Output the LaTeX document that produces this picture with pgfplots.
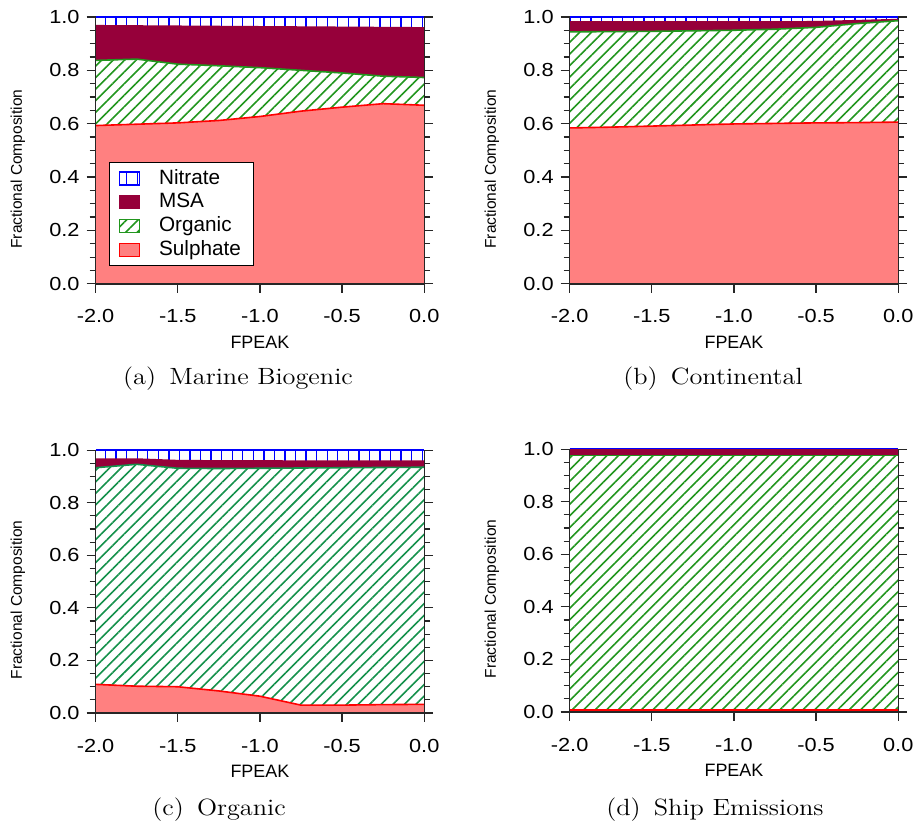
\documentclass[border=0pt]{standalone}
\usepackage{graphicx}
\usepackage{pgfplots}
\pgfplotsset{compat=1.18}
\usepackage{pgfplotstable}
\usetikzlibrary{patterns.meta}
\usepackage{fontspec}
\newfontfamily\arial{Liberation Sans}
\newfontfamily\arialwide[FakeStretch=1.15]{Liberation Sans}

\definecolor{sulfill}{RGB}{255,128,128}
\definecolor{sulline}{RGB}{255,0,0}
\definecolor{msacol}{RGB}{150,0,58}
\definecolor{orgcol}{RGB}{34,150,30}
\definecolor{orgcolc}{RGB}{20,145,75}
\definecolor{nitcol}{RGB}{0,0,255}

% cumulative tops of each layer
\pgfplotstableread{
x     sul   org   msa   nit
-2.00 0.593 0.837 0.967 1.0
-1.75 0.598 0.842 0.966 1.0
-1.50 0.603 0.823 0.965 1.0
-1.25 0.612 0.817 0.964 1.0
-1.00 0.627 0.810 0.963 1.0
-0.75 0.647 0.800 0.962 1.0
-0.50 0.662 0.790 0.961 1.0
-0.25 0.675 0.778 0.960 1.0
 0.00 0.669 0.773 0.959 1.0
}\tabA
\pgfplotstableread{
x     sul   org   msa   nit
-2.00 0.584 0.944 0.981 1.0
-1.75 0.587 0.945 0.981 1.0
-1.50 0.591 0.946 0.981 1.0
-1.25 0.595 0.948 0.981 1.0
-1.00 0.599 0.950 0.981 1.0
-0.75 0.601 0.954 0.981 1.0
-0.50 0.603 0.961 0.982 1.0
-0.25 0.604 0.975 0.986 1.0
 0.00 0.606 0.986 0.990 1.0
}\tabB
\pgfplotstableread{
x     sul   org   msa   nit
-2.00 0.109 0.933 0.966 1.0
-1.75 0.102 0.946 0.966 1.0
-1.50 0.100 0.931 0.960 1.0
-1.25 0.084 0.930 0.959 1.0
-1.00 0.064 0.931 0.959 1.0
-0.75 0.030 0.932 0.958 1.0
-0.50 0.030 0.933 0.958 1.0
-0.25 0.032 0.934 0.958 1.0
 0.00 0.033 0.935 0.958 1.0
}\tabC
\pgfplotstableread{
x     sul   org   msa   nit
-2.00 0.008 0.975 0.997 1.0
-1.50 0.008 0.975 0.997 1.0
-1.00 0.008 0.975 0.997 1.0
-0.50 0.008 0.975 0.997 1.0
 0.00 0.008 0.975 0.997 1.0
}\tabD

\pgfplotsset{
  fcomp/.style={
    scale only axis, width=165pt, height=134pt,
    xmin=-2, xmax=0, ymin=0, ymax=1,
    axis x line*=bottom, axis y line*=box,
    xtick pos=bottom, ytick pos=both,
    axis line style={-, line width=0.7pt, black!85},
    tick align=outside,
    xtick={-2,-1.5,-1,-0.5,0}, ytick={0,0.2,0.4,0.6,0.8,1},
    minor y tick num=3,
    major tick length=4.5pt, minor tick length=3pt,
    every tick/.style={black!85, line width=0.6pt},
    ticklabel style={font=\arialwide\fontsize{9.5}{10}\selectfont},
    xticklabel style={yshift=-5pt},
    /pgf/number format/fixed, /pgf/number format/fixed zerofill,
    /pgf/number format/precision=1, /pgf/number format/assume math mode=true,
    xlabel={FPEAK}, ylabel={Fractional Composition},
    every axis x label/.style={at={(axis description cs:0.5,0)}, yshift=-29.5pt,
      anchor=center, font=\arial\fontsize{9}{10}\selectfont},
    every axis y label/.style={at={(axis description cs:0,0.43)}, xshift=-39pt,
      rotate=90, anchor=center, font=\arial\fontsize{7.8}{9}\selectfont},
    axis on top, clip=false, no markers,
  },
  legimg/.style={legend image code/.code={\draw[##1] (0pt,-3.3pt) rectangle (10pt,3.3pt);}},
  nitpat/.style={fill=white, postaction={pattern={Lines[angle=90,distance=5.3pt,line width=0.65pt]}, pattern color=nitcol}},
  orgpat/.style={fill=white, postaction={pattern={Lines[angle=45,distance=4.1pt,line width=0.8pt]}, pattern color=#1}},
}

\newcommand\layers[2]{%
  \addplot[forget plot, draw=none, nitpat] table[y=nit]{#1} \closedcycle;
  \addplot[forget plot, draw=none, fill=msacol] table[y=msa]{#1} \closedcycle;
  \addplot[forget plot, draw=none, orgpat=#2] table[y=org]{#1} \closedcycle;
  \addplot[forget plot, draw=none, fill=sulfill] table[y=sul]{#1} \closedcycle;
  \addplot[forget plot, nitcol, line width=0.8pt] table[y=nit]{#1};
  \addplot[forget plot, msacol, line width=0.8pt] table[y=msa]{#1};
  \addplot[forget plot, #2, line width=0.8pt] table[y=org]{#1};
  \addplot[forget plot, sulline, line width=0.8pt] table[y=sul]{#1};
}

\newcommand\subcap[1]{\scalebox{1.12}[1]{\fontsize{11.8}{13}\selectfont #1}}

\begin{document}
\begin{tikzpicture}
\path (0pt,0pt) rectangle (460pt,-417.5pt);

\begin{axis}[fcomp, at={(48pt,-142.5pt)}, anchor=south west,
  legend style={at={(0.04,0.456)}, anchor=north west, draw=black, fill=white,
    font=\arial\fontsize{10.4}{12}\selectfont, inner xsep=5pt, inner ysep=2pt,
    row sep=0pt, nodes={inner sep=1.5pt},
    /tikz/every odd column/.append style={column sep=8pt}},
  legend cell align=left]
\layers{\tabA}{orgcol}
\addlegendimage{legimg, draw=nitcol, line width=0.6pt, nitpat}
\addlegendentry{Nitrate}
\addlegendimage{legimg, draw=msacol, fill=msacol}
\addlegendentry{MSA}
\addlegendimage{legimg, draw=orgcol, line width=0.6pt, orgpat=orgcol}
\addlegendentry{Organic}
\addlegendimage{legimg, draw=sulline, line width=0.6pt, fill=sulfill}
\addlegendentry{Sulphate}
\end{axis}

\begin{axis}[fcomp, at={(286pt,-142.5pt)}, anchor=south west]
\layers{\tabB}{orgcol}
\end{axis}

\begin{axis}[fcomp, height=132pt, at={(48pt,-358pt)}, anchor=south west]
\layers{\tabC}{orgcolc}
\end{axis}

\begin{axis}[fcomp, height=132pt, at={(286pt,-357.5pt)}, anchor=south west]
\layers{\tabD}{orgcol}
\end{axis}

\node at (119.5pt,-190pt) {\subcap{(a)\enspace Marine Biogenic}};
\node at (358pt,-190pt) {\subcap{(b)\enspace Continental}};
\node at (110pt,-406.5pt) {\subcap{(c)\enspace Organic}};
\node at (359pt,-406.5pt) {\subcap{(d)\enspace Ship Emissions}};
\end{tikzpicture}
\end{document}
